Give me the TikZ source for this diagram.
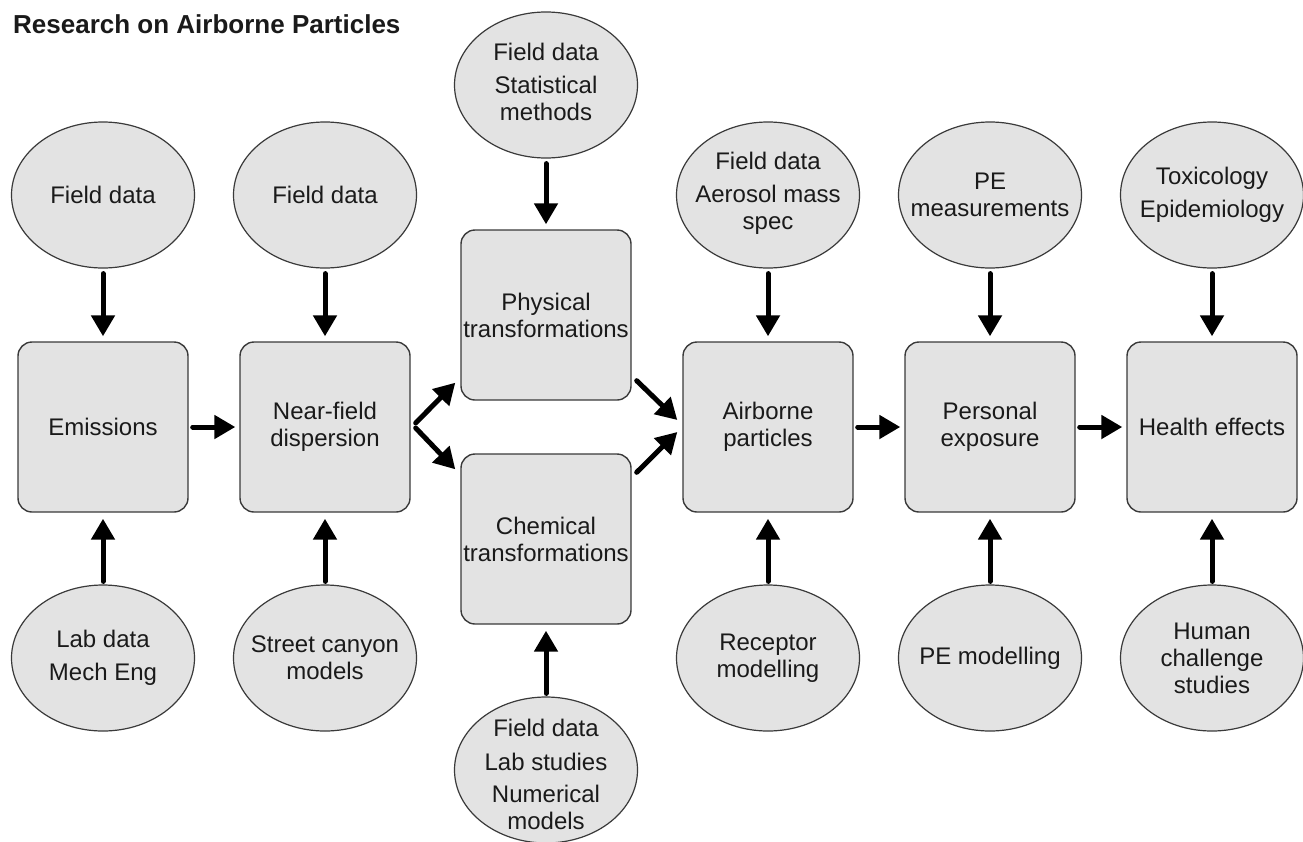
\documentclass[tikz,border=0pt]{standalone}
\usepackage{fontspec}
\setmainfont{Liberation Sans}
\usetikzlibrary{shapes.geometric,arrows.meta}
\definecolor{fillg}{HTML}{E3E3E3}
\definecolor{edgeg}{HTML}{3A3A3A}
\definecolor{txtc}{HTML}{1A1A1A}
\newcommand\lblfont{\fontsize{24}{27}\selectfont}
\begin{document}
\begin{tikzpicture}[x=1pt,y=-1pt,
 ell/.style={ellipse, draw=edgeg, line width=1.2pt, fill=fillg, minimum width=183pt, minimum height=146pt, inner sep=0pt},
 box/.style={rectangle, rounded corners=14pt, draw=edgeg, line width=1.4pt, fill=fillg, minimum width=170pt, minimum height=170pt, inner sep=0pt, text=txtc, align=center, font=\lblfont},
 lbl/.style={text=txtc, align=center, font=\lblfont, inner sep=0pt},
 arr/.style={line width=5pt, -{Triangle[width=23pt,length=21pt]}, line cap=round, black}]
\useasboundingbox (0,0) rectangle (1303,841);

\node[anchor=base west, inner sep=0pt, text=txtc, font=\bfseries\fontsize{26}{30}\selectfont] (title) at (13,33) {Research on Airborne Particles};

% boxes
\node[box] (B1) at (103,427) {Emissions};
\node[box] (B2) at (325,427) {Near-field\\dispersion};
\node[box] (B3) at (546,315) {Physical\\transformations};
\node[box] (B4) at (546,539) {Chemical\\transformations};
\node[box] (B5) at (768,427) {Airborne\\particles};
\node[box] (B6) at (990,427) {Personal\\exposure};
\node[box] (B7) at (1212,427) {Health effects};

% top ellipses
\node[ell] (T1) at (103,195) {};
\node[lbl] at (T1) {Field data};
\node[ell] (T2) at (325,195) {};
\node[lbl] at (T2) {Field data};
\node[ell] (T3) at (546,85) {};
\node[lbl] at ([yshift=3pt]T3.center) {Field data\\[6pt]Statistical\\methods};
\node[ell] (T4) at (768,195) {};
\node[lbl] at ([yshift=2pt]T4.center) {Field data\\[6pt]Aerosol mass\\spec};
\node[ell] (T5) at (990,195) {};
\node[lbl] at (T5) {PE\\measurements};
\node[ell] (T6) at (1212,195) {};
\node[lbl] at (T6) {Toxicology\\[6pt]Epidemiology};

% bottom ellipses
\node[ell] (U1) at (103,658) {};
\node[lbl] at (U1) {Lab data\\[6pt]Mech Eng};
\node[ell] (U2) at (325,658) {};
\node[lbl] at (U2) {Street canyon\\models};
\node[ell] (U3) at (546,770) {};
\node[lbl] at ([yshift=-4pt]U3.center) {Field data\\[7pt]Lab studies\\[5pt]Numerical\\models};
\node[ell] (U4) at (768,658) {};
\node[lbl] at (U4) {Receptor\\modelling};
\node[ell] (U5) at (990,658) {};
\node[lbl] at (U5) {PE modelling};
\node[ell] (U6) at (1212,658) {};
\node[lbl] at (U6) {Human\\challenge\\studies};

% vertical arrows from top
\foreach \a/\b in {T1/B1,T2/B2,T3/B3,T4/B5,T5/B6,T6/B7}
  \draw[arr, shorten <=5pt, shorten >=5pt] (\a) -- (\b);
% vertical arrows from bottom
\foreach \a/\b in {U1/B1,U2/B2,U3/B4,U4/B5,U5/B6,U6/B7}
  \draw[arr, shorten <=3pt, shorten >=6pt] (\a) -- (\b);

% horizontal arrows
\draw[arr, shorten <=4pt, shorten >=4pt] (B1) -- (B2);
\draw[arr, shorten <=4pt, shorten >=4pt] (B5) -- (B6);
\draw[arr, shorten <=4pt, shorten >=4pt] (B6) -- (B7);

% diagonal arrows
\draw[arr] ([shift={(5,-4)}]B2.east) -- ([shift={(-5,-18)}]B3.south west);
\draw[arr] ([shift={(5,1)}]B2.east) -- ([shift={(-5,16)}]B4.north west);
\draw[arr] ([shift={(5,-20)}]B3.south east) -- ([shift={(-5,-7)}]B5.west);
\draw[arr] ([shift={(5,19)}]B4.north east) -- ([shift={(-5,5)}]B5.west);
\end{tikzpicture}
\end{document}
